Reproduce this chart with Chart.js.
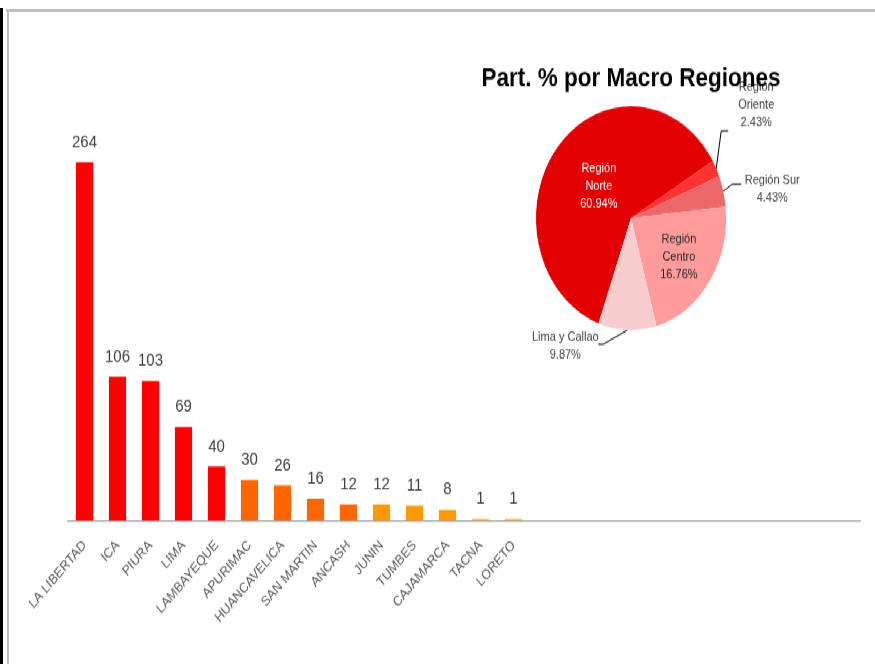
<!DOCTYPE html>
<html>
<head>
<meta charset="utf-8">
<script src="https://cdn.jsdelivr.net/npm/chart.js@4.4.1/dist/chart.umd.min.js"></script>
<style>
  body { margin: 0; background: #fff; }
  #page { position: relative; width: 875px; height: 664px; overflow: hidden; background: #fff; }
  .edge { position: absolute; }
  #stage { position: absolute; left: 0; top: 0; width: 875px; height: 563px; transform: scaleY(1.1794); transform-origin: 0 0; }
  #barCanvas { position: absolute; left: 0; top: 0; }
  #pieCanvas { position: absolute; left: 446px; top: 42px; }
</style>
</head>
<body>
<div id="page">
  <div class="edge" style="left:0;top:8px;width:3px;height:656px;background:#000"></div>
  <div class="edge" style="left:6px;top:9px;width:869px;height:3px;background:#bfbfbf"></div>
  <div class="edge" style="left:7px;top:9px;width:2px;height:655px;background:#bfbfbf"></div>
  <div id="stage">
    <canvas id="barCanvas" width="875" height="563"></canvas>
    <canvas id="pieCanvas" width="370" height="270"></canvas>
  </div>
</div>
<script>
// --- data ---
const departments = ['LA LIBERTAD', 'ICA', 'PIURA', 'LIMA', 'LAMBAYEQUE', 'APURIMAC', 'HUANCAVELICA',
    'SAN MARTIN', 'ANCASH', 'JUNIN', 'TUMBES', 'CAJAMARCA', 'TACNA', 'LORETO'];
const cases = [264, 106, 103, 69, 40, 30, 26, 16, 12, 12, 11, 8, 1, 1];
const barColors = ['#ff0000', '#ff0000', '#ff0000', '#ff0000', '#ff0000',
    '#ff6600', '#ff6600', '#ff6600', '#ff6600',
    '#ff9900', '#ff9900', '#ff9900', '#ff9900', '#ff9900'];

const regionNames = [['Región', 'Norte'], ['Región', 'Oriente'], ['Región Sur'], ['Región', 'Centro'], ['Lima y Callao']];
const regionShares = ['60.94%', '2.43%', '4.43%', '16.76%', '9.87%'];
const sliceSizes = [60.94, 2.43, 4.43, 22.33, 9.87];
const sliceColors = ['#e30000', '#ff3333', '#ec6868', '#ff9b9b', '#f7cccc'];

const FONT = '"Liberation Sans", Arial, sans-serif';
const get = (id) => document.getElementById(id);

// empty slots so the axis runs on to the right like the original
const slotLabels = departments.concat(Array(10).fill(''));

// value labels above the bars
const barValues = {
    id: 'barValues',
    afterDatasetsDraw(chart) {
        const ctx = chart.ctx;
        const meta = chart.getDatasetMeta(0);
        ctx.save();
        ctx.font = '15px ' + FONT;
        ctx.fillStyle = '#404040';
        ctx.textAlign = 'center';
        ctx.textBaseline = 'middle';
        meta.data.forEach((bar, i) => {
            ctx.fillText(String(cases[i]), bar.x, bar.y - 17);
        });
        ctx.restore();
    }
};

new Chart(get('barCanvas'), {
    type: 'bar',
    data: {
        labels: slotLabels,
        datasets: [{
            data: cases,
            backgroundColor: barColors,
            borderWidth: 0,
            categoryPercentage: 1,
            barPercentage: 0.52
        }]
    },
    options: {
        responsive: false,
        animation: false,
        layout: { padding: { left: 68, right: 15, top: 96, bottom: 0 } },
        plugins: { legend: { display: false }, tooltip: { enabled: false } },
        scales: {
            x: {
                grid: { display: false },
                border: { display: true, color: '#a6a6a6', width: 1.5 },
                ticks: {
                    autoSkip: false, minRotation: 45, maxRotation: 45, padding: 6,
                    color: '#595959', font: { family: FONT, size: 12 }
                },
                afterFit: (s) => { s.height = 121.5; }
            },
            y: { display: false, min: 0, max: 300 }
        }
    },
    plugins: [barValues]
});

// pie labels: outside ones go under the title, inside ones over the slices
function drawSliceLabel(ctx, lines, x, y, color) {
    ctx.fillStyle = color;
    const lh = 15;
    const top = y - (lines.length - 1) * lh / 2;
    lines.forEach((t, k) => ctx.fillText(t, x, top + k * lh));
}

const sliceLabels = {
    id: 'sliceLabels',
    _draw(chart, opts, outside) {
        const ctx = chart.ctx;
        const meta = chart.getDatasetMeta(0);
        ctx.save();
        ctx.font = '11px ' + FONT;
        ctx.textAlign = 'center';
        ctx.textBaseline = 'middle';
        meta.data.forEach((arc, i) => {
            const cfg = opts.items[i];
            const lines = regionNames[i].concat([regionShares[i]]);
            const mid = (arc.startAngle + arc.endAngle) / 2;
            const r = arc.outerRadius;
            if (cfg.inside && !outside) {
                drawSliceLabel(ctx, lines, arc.x + Math.cos(mid) * r * cfg.dist,
                    arc.y + Math.sin(mid) * r * cfg.dist, cfg.color);
            } else if (!cfg.inside && outside) {
                const ex = arc.x + Math.cos(mid) * r;
                const ey = arc.y + Math.sin(mid) * r;
                ctx.strokeStyle = '#000';
                ctx.lineWidth = 1;
                ctx.beginPath();
                ctx.moveTo(ex, ey);
                ctx.lineTo(ex + cfg.elbow[0], ey + cfg.elbow[1]);
                ctx.lineTo(ex + cfg.elbow[0] + cfg.tail, ey + cfg.elbow[1]);
                ctx.stroke();
                drawSliceLabel(ctx, lines, ex + cfg.text[0], ey + cfg.text[1], '#404040');
            }
        });
        ctx.restore();
    },
    beforeDraw(chart, args, opts) { this._draw(chart, opts, true); },
    afterDatasetsDraw(chart, args, opts) { this._draw(chart, opts, false); }
};

new Chart(get('pieCanvas'), {
    type: 'pie',
    data: {
        labels: regionNames.map(n => n.join(' ')),
        datasets: [{
            data: sliceSizes,
            backgroundColor: sliceColors,
            borderWidth: 0
        }]
    },
    options: {
        responsive: false,
        animation: false,
        rotation: 200,
        layout: { padding: { left: 0, right: 0, top: 0, bottom: 32 } },
        plugins: {
            legend: { display: false },
            tooltip: { enabled: false },
            title: {
                display: true,
                text: 'Part. % por Macro Regiones',
                color: '#000',
                font: { family: FONT, size: 22.5, weight: 'bold' },
                padding: { top: 11, bottom: 10 }
            },
            sliceLabels: {
                items: [
                    { inside: true, dist: 0.44, color: '#ffffff' },
                    { elbow: [5, -32], tail: 7, text: [40, -54] },
                    { elbow: [9, -6], tail: 9, text: [49, -2] },
                    { inside: true, dist: 0.61, color: '#262626' },
                    { elbow: [-24, 12], tail: -5, text: [-62, 14] }
                ]
            }
        }
    },
    plugins: [sliceLabels]
});
</script>
</body>
</html>
